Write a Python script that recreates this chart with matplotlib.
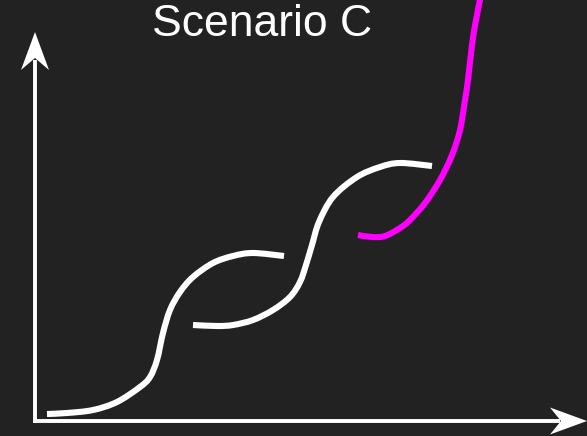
import matplotlib
matplotlib.use("Agg")
import matplotlib.pyplot as plt
from matplotlib.patches import Polygon, PathPatch
from matplotlib.path import Path

# Schematic curves, read in pixel coordinates of the reference (y downward)
curve1_x = [47, 67, 93, 117, 140, 150, 157, 163, 170, 180, 193, 213, 233, 253, 284]
curve1_y = [414, 413, 410, 402, 387, 377, 360, 333, 310, 292, 277, 263, 256, 253, 256]

curve2_x = [193, 217, 233, 253, 273, 290, 300, 306, 312, 319, 333, 357, 380, 400, 432]
curve2_y = [325, 326, 325, 320, 310, 297, 282, 265, 245, 222, 197, 177, 167, 163, 166]

curve3_x = [358, 372, 385, 400, 410, 425, 440, 452, 460, 465, 468, 472, 476, 481]
curve3_y = [235, 237, 236, 228, 220, 203, 180, 155, 130, 100, 80, 45, 20, -5]

title = "Scenario C"
bg = "#222222"

fig = plt.figure(figsize=(5.87, 4.36), dpi=100, facecolor=bg)
ax = fig.add_axes([0, 0, 1, 1])
ax.set_facecolor(bg)
ax.set_xlim(0, 587)
ax.set_ylim(436, 0)
ax.axis("off")

# axes with arrows
ox, oy = 35, 421
ax.plot([ox, ox], [oy + 1.5, 60], color="white", lw=2.8, solid_capstyle="butt")
ax.plot([ox - 1.5, 560], [oy, oy], color="white", lw=2.8, solid_capstyle="butt")

def arrow_head(tip_x, tip_y, direction, length=38, half=14, notch=12):
    if direction == "up":
        pts = [(tip_x, tip_y), (tip_x + half, tip_y + length),
               (tip_x, tip_y + length - notch), (tip_x - half, tip_y + length)]
    else:
        pts = [(tip_x, tip_y), (tip_x - length, tip_y - half),
               (tip_x - length + notch, tip_y), (tip_x - length, tip_y + half)]
    ax.add_patch(Polygon(pts, closed=True, facecolor="white", edgecolor="none"))

arrow_head(ox, 32, "up")
arrow_head(587, oy, "right", length=37, half=13.5, notch=11)


def smooth_path(xs, ys):
    """Catmull-Rom through the read points, drawn as cubic Bezier segments."""
    pts = list(zip(xs, ys))
    verts = [pts[0]]
    codes = [Path.MOVETO]
    n = len(pts)
    for i in range(n - 1):
        p0 = pts[i - 1] if i > 0 else pts[i]
        p1 = pts[i]
        p2 = pts[i + 1]
        p3 = pts[i + 2] if i + 2 < n else pts[i + 1]
        c1 = (p1[0] + (p2[0] - p0[0]) / 6, p1[1] + (p2[1] - p0[1]) / 6)
        c2 = (p2[0] - (p3[0] - p1[0]) / 6, p2[1] - (p3[1] - p1[1]) / 6)
        verts += [c1, c2, p2]
        codes += [Path.CURVE4] * 3
    return Path(verts, codes)


for xs, ys, col in [(curve1_x, curve1_y, "white"),
                    (curve2_x, curve2_y, "white"),
                    (curve3_x, curve3_y, "#ff00ff")]:
    ax.add_patch(PathPatch(smooth_path(xs, ys), facecolor="none", edgecolor=col,
                           lw=4.4, capstyle="butt", joinstyle="round"))

ax.text(262, 24, title, color="white", fontsize=32, family=["Liberation Sans", "DejaVu Sans"],
        ha="center", va="center")

fig.savefig("out.png", dpi=100, facecolor=bg)
